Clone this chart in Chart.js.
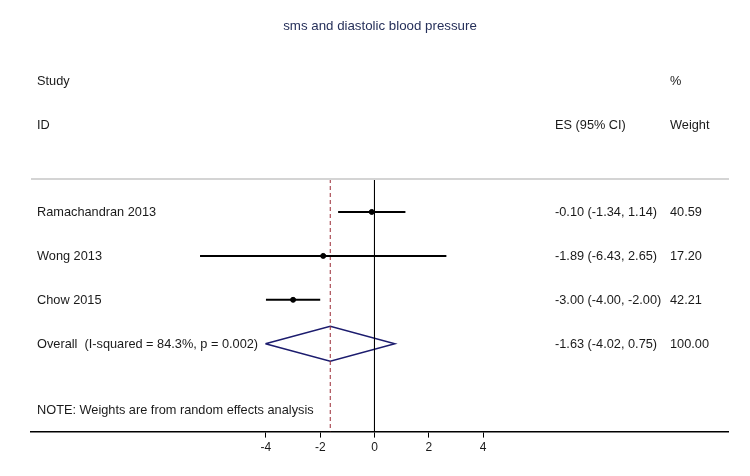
<!DOCTYPE html>
<html>
<head>
<meta charset="utf-8">
<script src="https://cdn.jsdelivr.net/npm/chart.js@4/dist/chart.umd.min.js"></script>
<style>
  html, body { margin: 0; padding: 0; background: #fff; }
  #wrap { width: 750px; height: 476px; position: relative; }
</style>
</head>
<body>
<div id="wrap"><canvas id="forest"></canvas></div>
<script>
const studies = ['Ramachandran 2013', 'Wong 2013', 'Chow 2015'];
const effects = [-0.10, -1.89, -3.00];
const lowerCI = [-1.34, -6.43, -4.00];
const upperCI = [1.14, 2.65, -2.00];
const weights = ['40.59', '17.20', '42.21'];
const overallLabel = 'Overall  (I-squared = 84.3%, p = 0.002)';
const overallES = [-1.63, -4.02, 0.75];
const tickValues = [-4, -2, 0, 2, 4];

const textFont = '12.75px "Liberation Sans", Arial, sans-serif';
const rowY = [1, 2, 3];
const overallRow = 4;
const yTop = 0.25, yBottom = 6;

function fmt(v) { return v.toFixed(2); }

const datasets = [];

// confidence interval lines
studies.forEach((s, i) => {
    datasets.push({
        type: 'scatter',
        data: [{ x: lowerCI[i], y: rowY[i] }, { x: upperCI[i], y: rowY[i] }],
        showLine: true,
        borderColor: '#000',
        borderWidth: 2,
        pointRadius: 0
    });
});

// point estimates
datasets.push({
    type: 'scatter',
    data: effects.map((e, i) => ({ x: e, y: rowY[i] })),
    backgroundColor: '#000',
    borderColor: '#000',
    pointRadius: 2.5
});

// no effect line
datasets.push({
    type: 'scatter',
    data: [{ x: 0, y: yTop }, { x: 0, y: yBottom }],
    showLine: true,
    borderColor: '#000',
    borderWidth: 1,
    pointRadius: 0
});

// overall effect line
datasets.push({
    type: 'scatter',
    data: [{ x: overallES[0], y: yTop }, { x: overallES[0], y: yBottom }],
    showLine: true,
    borderColor: '#9b2a35',
    borderWidth: 1,
    borderDash: [4, 3],
    pointRadius: 0
});

// diamond
datasets.push({
    type: 'scatter',
    data: [
        { x: overallES[1], y: overallRow },
        { x: overallES[0], y: overallRow - 0.4 },
        { x: overallES[2], y: overallRow },
        { x: overallES[0], y: overallRow + 0.4 },
        { x: overallES[1], y: overallRow }
    ],
    showLine: true,
    borderColor: '#1c1c6e',
    borderWidth: 1.5,
    pointRadius: 0
});

const textPlugin = {
    id: 'forestText',
    afterDraw(chart) {
        const ctx = chart.ctx;
        const y = chart.scales.y;
        ctx.save();

        // separator
        ctx.strokeStyle = '#d4d4d4';
        ctx.lineWidth = 2;
        ctx.beginPath();
        ctx.moveTo(31, y.getPixelForValue(yTop));
        ctx.lineTo(729, y.getPixelForValue(yTop));
        ctx.stroke();

        ctx.textBaseline = 'middle';
        ctx.font = '13.3px "Liberation Sans", Arial, sans-serif';
        ctx.fillStyle = '#26305a';
        ctx.textAlign = 'center';
        ctx.fillText('sms and diastolic blood pressure', 380, 26);

        ctx.font = textFont;
        ctx.fillStyle = '#1a1a1a';
        ctx.textAlign = 'left';
        ctx.fillText('Study', 37, y.getPixelForValue(-2) + 1);
        ctx.fillText('ID', 37, y.getPixelForValue(-1) + 1);
        ctx.fillText('ES (95% CI)', 555, y.getPixelForValue(-1) + 1);
        ctx.fillText('%', 670, y.getPixelForValue(-2) + 1);
        ctx.fillText('Weight', 670, y.getPixelForValue(-1) + 1);

        studies.forEach((s, i) => {
            const py = y.getPixelForValue(rowY[i]) + 1;
            ctx.fillText(s, 37, py);
            ctx.fillText(fmt(effects[i]) + ' (' + fmt(lowerCI[i]) + ', ' + fmt(upperCI[i]) + ')', 555, py);
            ctx.fillText(weights[i], 670, py);
        });
        const po = y.getPixelForValue(overallRow) + 1;
        ctx.fillText(overallLabel, 37, po);
        ctx.fillText(fmt(overallES[0]) + ' (' + fmt(overallES[1]) + ', ' + fmt(overallES[2]) + ')', 555, po);
        ctx.fillText('100.00', 670, po);

        ctx.fillText('NOTE: Weights are from random effects analysis', 37, y.getPixelForValue(5.5) + 1);
        ctx.restore();
    }
};

new Chart(document.getElementById('forest'), {
    type: 'scatter',
    data: { datasets: datasets },
    options: {
        responsive: true,
        maintainAspectRatio: false,
        animation: false,
        layout: { padding: { top: 179, left: 31, right: 22, bottom: 18 } },
        plugins: { legend: { display: false }, tooltip: { enabled: false } },
        scales: {
            x: {
                type: 'linear',
                min: -12.66,
                max: 13.03,
                afterBuildTicks: axis => { axis.ticks = tickValues.map(v => ({ value: v })); },
                grid: { drawOnChartArea: false, tickLength: 6, color: '#000' },
                border: { display: true, color: '#000', width: 1.5 },
                ticks: {
                    color: '#1a1a1a',
                    font: { family: '"Liberation Sans", Arial, sans-serif', size: 12 },
                    padding: 3,
                    maxRotation: 0
                }
            },
            y: {
                type: 'linear',
                display: false,
                reverse: true,
                min: yTop,
                max: yBottom
            }
        }
    },
    plugins: [textPlugin]
});
</script>
</body>
</html>
